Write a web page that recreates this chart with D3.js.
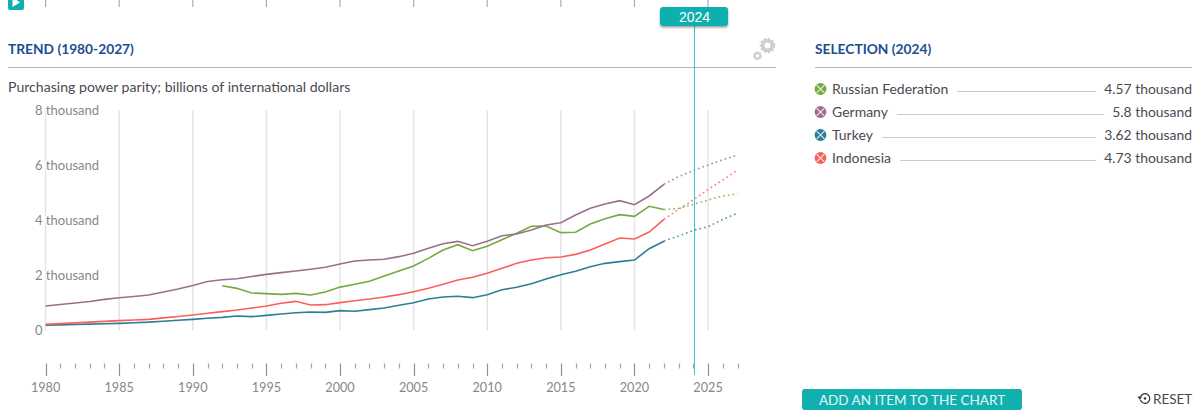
<!DOCTYPE html>
<html><head><meta charset="utf-8">
<script src="https://cdn.jsdelivr.net/npm/d3@7/dist/d3.min.js"></script>
<style>
html,body{margin:0;padding:0;background:#fff;overflow:hidden}
svg{display:block}
text{font-family:Lato,"Noto Sans",sans-serif}
</style></head><body><svg id="c" width="1200" height="418"></svg>
<script>
const years = d3.range(1980, 2028);
const yTicks = [0, 2000, 4000, 6000, 8000];
const yTickLabels = ["0", "2 thousand", "4 thousand", "6 thousand", "8 thousand"];
const lastActual = 2022;
const selectedYear = 2024;
const seriesNames = ["Russian Federation", "Germany", "Turkey", "Indonesia"];
const seriesColors = ["#76a93e", "#9c6f8f", "#2b7f96", "#f9605a"];
const selectionValues = ["4.57 thousand", "5.8 thousand", "3.62 thousand", "4.73 thousand"];

const russia = [null,null,null,null,null,null,null,null,null,null,null,null,
 1612,1515,1345,1321,1297,1333,1273,1382,1560,1661,1770,1964,2145,2327,2606,2909,3103,2885,3042,3285,3515,3770,3782,3540,3552,3855,4048,4194,4133,4497,4380,
 4420,4570,4727,4873,4958];
const germany = [873,930,980,1035,1115,1175,1220,1273,1380,1490,1620,1765,1830,1866,1945,2024,2085,2145,2207,2279,
 2400,2509,2545,2570,2667,2788,2970,3139,3224,3067,3224,3430,3491,3636,3818,3903,4182,4424,4582,4703,4558,4873,5297,
 5576,5800,6000,6193,6364];
const turkey = [170,185,198,212,228,242,262,285,320,355,388,425,460,509,485,533,582,630,655,642,
 703,680,740,800,897,994,1127,1200,1225,1176,1285,1467,1552,1685,1855,2012,2133,2303,2424,2485,2545,2957,3230,
 3418,3620,3757,4024,4242];
const indonesia = [206,232,258,285,312,340,362,388,440,490,545,610,667,727,800,873,970,1042,909,921,
 994,1066,1127,1200,1285,1394,1515,1660,1818,1915,2060,2242,2424,2545,2630,2655,2750,2909,3127,3345,3309,3564,4024,
 4388,4730,5115,5454,5818];
const seriesValues = [russia, germany, turkey, indonesia];

const svg = d3.select("#c");
const x = d3.scaleLinear().domain([1980, 2027]).range([45.6, 737.5]);
const y = d3.scaleLinear().domain([0, 8000]).range([330, 110]);
const major = years.filter(v => v % 5 === 0);

// top strip of ticks
svg.append("g").selectAll("line").data(major).join("line")
  .attr("x1", d => x(d)).attr("x2", d => x(d)).attr("y1", 0).attr("y2", 7)
  .attr("stroke", "#a9a9c6").attr("stroke-width", 1.2);
svg.append("rect").attr("x", 8).attr("y", -6).attr("width", 16).attr("height", 16).attr("rx", 2).attr("fill", "#0fb0ae");
svg.append("path").attr("d", "M12.5,-3L20,2.5L12.5,7Z").attr("fill", "#fff");

// headers
function header(text, x0, x1) {
  svg.append("text").attr("x", x0).attr("y", 54).attr("font-size", 13.75).attr("font-weight", 700)
    .attr("fill", "#1b4e92").text(text);
  svg.append("line").attr("x1", x0).attr("x2", x1).attr("y1", 67.5).attr("y2", 67.5)
    .attr("stroke", "#b5b5bd").attr("stroke-width", 1);
}
header("TREND (1980-2027)", 8, 776);
header("SELECTION (2024)", 815, 1192);
svg.append("text").attr("x", 8).attr("y", 92).attr("font-size", 14.1).attr("fill", "#4a4a52")
  .text("Purchasing power parity; billions of international dollars");

// gears
function gear(cx, cy, r, w, teeth) {
  svg.append("circle").attr("cx", cx).attr("cy", cy).attr("r", r).attr("fill", "none")
    .attr("stroke", "#cfcfcf").attr("stroke-width", w);
  svg.append("circle").attr("cx", cx).attr("cy", cy).attr("r", r + w * 0.55).attr("fill", "none")
    .attr("stroke", "#cfcfcf").attr("stroke-width", w * 0.6)
    .attr("stroke-dasharray", teeth);
}
gear(767.5, 45.5, 4.8, 3.6, "2.2 1.8");
gear(757.5, 55.7, 2.8, 2, "1.4 1.2");

// grid
svg.append("g").selectAll("line").data(major).join("line")
  .attr("x1", d => x(d)).attr("x2", d => x(d)).attr("y1", y(8000)).attr("y2", y(0) + 0.5)
  .attr("stroke", "#e4e4e8").attr("stroke-width", 1.5);

// y labels
svg.append("g").selectAll("text").data(yTicks).join("text")
  .attr("x", 35).attr("y", d => y(d) + 4.5).attr("font-size", 13).attr("fill", "#88888a")
  .attr("stroke", "#fff").attr("stroke-width", 3).attr("paint-order", "stroke")
  .text((d, i) => yTickLabels[i]);

// series
const line = d3.line().defined(d => d.v !== null).x(d => x(d.t)).y(d => y(d.v));
seriesValues.forEach((vals, i) => {
  const pts = vals.map((v, j) => ({t: years[j], v}));
  svg.append("path").attr("d", line(pts.filter(p => p.t <= lastActual)))
    .attr("fill", "none").attr("stroke", seriesColors[i]).attr("stroke-width", 1.6);
  svg.append("path").attr("d", line(pts.filter(p => p.t >= lastActual)))
    .attr("fill", "none").attr("stroke", seriesColors[i]).attr("stroke-width", 1.6)
    .attr("stroke-dasharray", "1.7 3").attr("opacity", 0.8);
});

// bottom axis
const axisG = svg.append("g").attr("class", "time-axis");
axisG.selectAll("line").data(years).join("line")
  .attr("x1", d => Math.round(x(d)) + 0.5).attr("x2", d => Math.round(x(d)) + 0.5).attr("y1", 363.5)
  .attr("y2", d => d % 5 === 0 ? 376 : 368.5)
  .attr("stroke", d => d % 5 === 0 ? "#8f8fb3" : "#a4a4c4").attr("stroke-width", 1.2);
axisG.selectAll("text").data(major).join("text")
  .attr("x", d => x(d)).attr("y", 391.5).attr("text-anchor", "middle")
  .attr("font-size", 12.7).attr("fill", "#88888a").text(d => d);

// selected year marker
const sx = 694.5;
svg.append("line").attr("x1", sx).attr("x2", sx).attr("y1", 26).attr("y2", 375)
  .attr("stroke", "#3fc7c5").attr("stroke-width", 1);
const defs = svg.append("defs");
const f = defs.append("filter").attr("id", "sh").attr("x", "-20%").attr("y", "-30%").attr("width", "140%").attr("height", "170%");
f.append("feDropShadow").attr("dx", 0).attr("dy", 1.5).attr("stdDeviation", 1.3).attr("flood-color", "#000").attr("flood-opacity", 0.4);
svg.append("rect").attr("x", 660).attr("y", 7).attr("width", 68).attr("height", 19).attr("rx", 3)
  .attr("fill", "#0fb0ae").attr("filter", "url(#sh)");
svg.append("text").attr("x", 694.5).attr("y", 21.5).attr("text-anchor", "middle")
  .attr("font-size", 14).attr("fill", "#fff").style("font-family", "'Liberation Sans',sans-serif").text(selectedYear);

// selection legend
const rowY = [89, 112, 135, 158];
seriesNames.forEach((name, i) => {
  const g = svg.append("g");
  const yy = rowY[i];
  g.append("circle").attr("cx", 820.5).attr("cy", yy).attr("r", 5.9).attr("fill", seriesColors[i]);
  g.append("path").attr("d", `M816.6,${yy-3.9}L824.4,${yy+3.9}M824.4,${yy-3.9}L816.6,${yy+3.9}`)
    .attr("stroke", "#fff").attr("stroke-width", 1.2).attr("opacity", 0.8);
  const t = g.append("text").attr("x", 832).attr("y", yy + 4.5).attr("font-size", 14).attr("fill", "#4a4a52").text(name);
  const v = g.append("text").attr("x", 1192).attr("y", yy + 4.5).attr("text-anchor", "end")
    .attr("font-size", 13.9).attr("fill", "#4a4a52").text(selectionValues[i]);
  const x0 = 832 + t.node().getComputedTextLength() + 9;
  const x1 = 1192 - v.node().getComputedTextLength() - 8;
  g.append("line").attr("x1", x0).attr("x2", x1).attr("y1", yy + 2.5).attr("y2", yy + 2.5)
    .attr("stroke", "#c9c9cf").attr("stroke-width", 1);
});

// button & reset
svg.append("rect").attr("x", 802).attr("y", 389).attr("width", 220).attr("height", 21).attr("rx", 3).attr("fill", "#0fb0ae");
svg.append("text").attr("x", 912).attr("y", 404.5).attr("text-anchor", "middle").attr("font-size", 13.5)
  .attr("fill", "#e8f8f8").text("ADD AN ITEM TO THE CHART");
svg.append("text").attr("x", 1153).attr("y", 403.5).attr("font-size", 13.5).attr("fill", "#4a4a52").text("RESET");
svg.append("path").attr("d", d3.arc().innerRadius(4.2).outerRadius(5.4).startAngle(-1.2).endAngle(4.4)())
  .attr("transform", "translate(1145,398.5)").attr("fill", "#333");
svg.append("circle").attr("cx", 1145).attr("cy", 398.5).attr("r", 1.2).attr("fill", "#333");
svg.append("path").attr("d", "M1137.5,396.5L1142,396.5L1140,400Z").attr("fill", "#333");
</script></body></html>
